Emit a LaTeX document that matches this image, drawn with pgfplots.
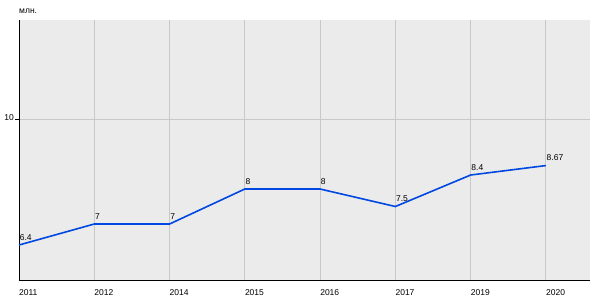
\documentclass[border=0pt]{standalone}
\usepackage{fontspec}
\setmainfont{Liberation Sans}
\usepackage{pgfplots}
\usepackage{pgfplotstable}
\pgfplotsset{compat=1.18}
\definecolor{bgc}{HTML}{EBEBEB}
\definecolor{gridc}{HTML}{C8C8C8}
\definecolor{linec}{RGB}{0,72,225}
\pgfplotstableread{
x y lab
0 6.4 6.4
1 7 7
2 7 7
3 8 8
4 8 8
5 7.5 7.5
6 8.4 8.4
7 8.67 8.67
}\datatable
\begin{document}
\begin{tikzpicture}[x=1pt,y=1pt]
\useasboundingbox (0,0) rectangle (600,300);
\begin{axis}[
  at={(19pt,20pt)}, anchor=south west,
  scale only axis, width=571pt, height=260pt,
  xmin=0, xmax=7.586, ymin=5.4, ymax=12.83,
  axis x line*=bottom, axis y line*=left,
  axis line style={black, line width=0.9pt, -},
  axis background/.style={fill=bgc},
  xtick={0,...,7},
  xticklabels={2011,2012,2014,2015,2016,2017,2019,2020},
  ytick={10},
  xmajorgrids, ymajorgrids,
  grid style={gridc, line width=0.8pt},
  major tick length=4pt,
  x tick style={draw=none},
  y tick style={black, line width=0.8pt},
  tick align=outside,
  /pgf/number format/assume math mode=true,
  ticklabel style={font=\fontsize{8.5}{10}\selectfont},
  xticklabel style={anchor=north west, inner sep=0pt, yshift=-5pt, xshift=0pt},
  yticklabel style={anchor=east, inner sep=0pt, xshift=-1pt, yshift=1.5pt},
  clip=false,
]
\addplot[linec, line width=1.6pt, mark=none,
  nodes near coords, point meta=explicit symbolic,
  every node near coord/.style={anchor=south west, inner sep=0pt, yshift=4pt, xshift=0pt, black, font=\fontsize{8.5}{10}\selectfont}
] table[x=x, y=y, meta=lab] {\datatable};
\end{axis}
\node[anchor=base west, inner sep=0pt, font=\fontsize{8.5}{10}\selectfont] at (19,286) {млн.};
\end{tikzpicture}
\end{document}
